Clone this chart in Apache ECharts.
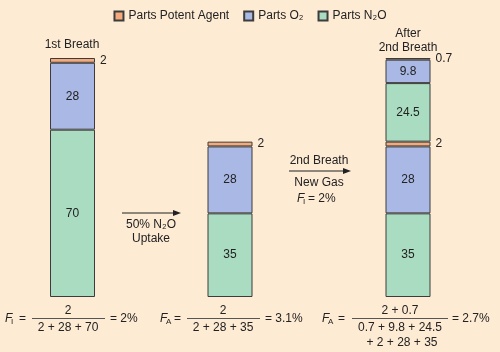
<!DOCTYPE html>
<html>
<head>
<meta charset="utf-8">
<script src="https://cdn.jsdelivr.net/npm/echarts@6/dist/echarts.min.js"></script>
<style>
  html, body { margin: 0; padding: 0; background: #fdebd4; }
  #chart { width: 500px; height: 352px; }
</style>
</head>
<body>
<div id="chart"></div>
<script>
// parts per 100 at each stage
var stages = ['1st Breath', '50% N₂O Uptake', 'After 2nd Breath']
var agentParts = [2, 2, 2]
var o2Parts = [28, 28, 28]
var n2oParts = [70, 35, 35]
// gas added by the 2nd breath (only in last bar)
var newN2oParts = [null, null, 24.5]
var newO2Parts = [null, null, 9.8]
var newAgentParts = [null, null, 0.7]

var barCenters = [72.5, 230, 408] // px, each bar gets its own grid
var BAR_W = 45

var FONT = '"Liberation Sans", Arial, sans-serif'
var colors = { agent: '#f5aa7c', o2: '#aab8e6', n2o: '#a9dcc1' }

// bottom to top
var layers = [
  { name: 'Parts N₂O', vals: n2oParts, color: colors.n2o, pos: 'inside' },
  { name: 'Parts O₂', vals: o2Parts, color: colors.o2, pos: 'inside' },
  { name: 'Parts Potent Agent', vals: agentParts, color: colors.agent, pos: 'right' },
  { name: 'Parts N₂O', vals: newN2oParts, color: colors.n2o, pos: 'inside' },
  { name: 'Parts O₂', vals: newO2Parts, color: colors.o2, pos: 'inside' },
  { name: 'Parts Potent Agent', vals: newAgentParts, color: colors.agent, pos: 'right' }
]

var grids = [], xAxes = [], yAxes = [], series = []
stages.forEach(function (stage, i) {
  grids.push({ left: barCenters[i] - BAR_W / 2, width: BAR_W, top: 58, bottom: 55 })
  xAxes.push({ type: 'category', gridIndex: i, data: [stage], show: false })
  yAxes.push({ type: 'value', gridIndex: i, min: 0, max: 100, show: false })
  layers.forEach(function (layer) {
    if (layer.vals[i] == null) return
    series.push({
      name: layer.name,
      type: 'bar',
      xAxisIndex: i,
      yAxisIndex: i,
      stack: 'bar' + i,
      barWidth: '100%',
      data: [layer.vals[i]],
      itemStyle: { color: layer.color, borderColor: '#3c3c3c', borderWidth: 1 },
      label: {
        show: true,
        position: layer.pos,
        distance: 5,
        color: '#222',
        fontSize: 12,
        fontFamily: FONT
      }
    })
  })
})

function txt(x, y, text, extra) {
  return {
    type: 'text',
    x: x,
    y: y,
    style: Object.assign({
      text: text,
      fill: '#222',
      font: '12px ' + FONT,
      align: 'center',
      verticalAlign: 'middle'
    }, extra || {})
  }
}

// italic F with an upright subscript letter
function fsub(x, y, sub) {
  return [
    txt(x, y, 'F', { font: 'italic 12px ' + FONT, align: 'left' }),
    txt(x + 6, y + 3, sub, { font: '8px ' + FONT, align: 'left' })
  ]
}

function hline(x1, x2, y, color) {
  return {
    type: 'line',
    shape: { x1: x1, y1: y, x2: x2, y2: y },
    style: { stroke: color || '#555', lineWidth: 1 }
  }
}

function arrow(x1, x2, y) {
  return [
    hline(x1, x2 - 4, y, '#222'),
    {
      type: 'polygon',
      shape: { points: [[x2, y], [x2 - 8, y - 3], [x2 - 8, y + 3]] },
      style: { fill: '#222' }
    }
  ]
}

var graphics = [].concat(
  txt(72, 45, stages[0]),
  txt(408, 34, 'After'),
  txt(408, 48, '2nd Breath'),
  arrow(122, 181, 213),
  txt(151, 225, '50% N₂O'),
  txt(151, 239, 'Uptake'),
  txt(319, 161, '2nd Breath'),
  arrow(289, 351, 171),
  txt(319, 183, 'New Gas'),
  fsub(297, 199, 'I'),
  txt(308, 199, '= 2%', { align: 'left' }),

  // F_I = 2 / (2 + 28 + 70) = 2%
  fsub(5, 319, 'I'),
  txt(19, 319, '=', { align: 'left' }),
  txt(68, 311, '2'),
  hline(32, 105, 318.5),
  txt(68, 328, '2 + 28 + 70'),
  txt(110, 319, '= 2%', { align: 'left' }),

  // F_A = 2 / (2 + 28 + 35) = 3.1%
  fsub(160, 319, 'A'),
  txt(174, 319, '=', { align: 'left' }),
  txt(223, 311, '2'),
  hline(187, 260, 318.5),
  txt(223, 328, '2 + 28 + 35'),
  txt(265, 319, '= 3.1%', { align: 'left' }),

  // F_A after 2nd breath
  fsub(322, 319, 'A'),
  txt(338, 319, '=', { align: 'left' }),
  txt(400, 311, '2 + 0.7'),
  hline(352, 448, 318.5),
  txt(400, 328, '0.7 + 9.8 + 24.5'),
  txt(402, 343, '+ 2 + 28 + 35'),
  txt(452, 319, '= 2.7%', { align: 'left' })
)

var chart = echarts.init(document.getElementById('chart'))
chart.setOption({
  backgroundColor: '#fdebd4',
  animation: false,
  legend: {
    top: 5,
    left: 'center',
    icon: 'rect',
    itemWidth: 9,
    itemHeight: 9,
    itemGap: 14,
    textStyle: { color: '#222', fontSize: 12, fontFamily: FONT },
    data: ['Parts Potent Agent', 'Parts O₂', 'Parts N₂O']
  },
  grid: grids,
  xAxis: xAxes,
  yAxis: yAxes,
  series: series,
  graphic: graphics
})
</script>
</body>
</html>
